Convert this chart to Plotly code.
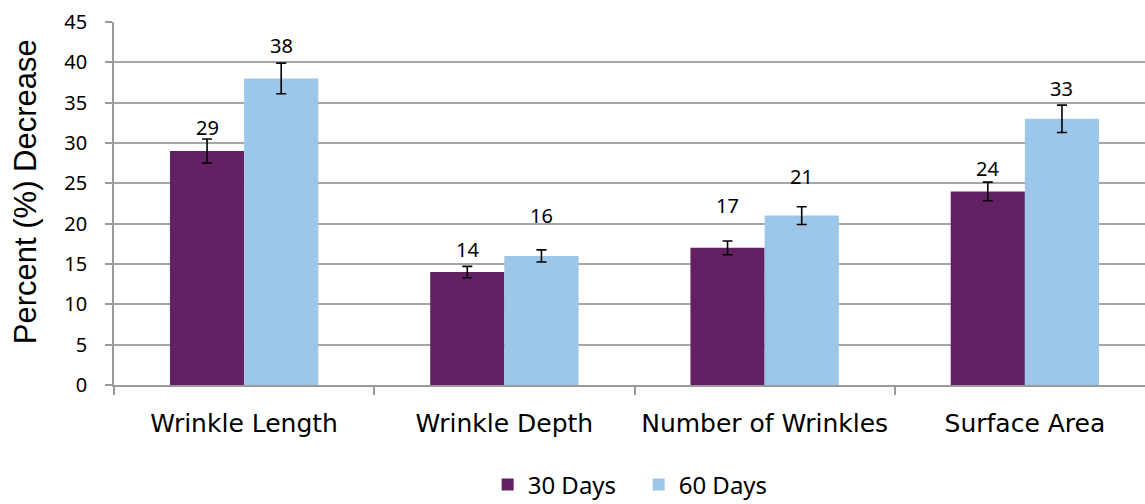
import plotly.graph_objects as go

categories = ["Wrinkle Length", "Wrinkle Depth", "Number of Wrinkles", "Surface Area"]
series_names = ["30 Days", "60 Days"]
values_30 = [29, 14, 17, 24]
values_60 = [38, 16, 21, 33]
err_30 = [1.5, 0.7, 0.85, 1.15]
err_60 = [1.9, 0.75, 1.1, 1.7]
y_ticks = [0, 5, 10, 15, 20, 25, 30, 35, 40, 45]

# styling: extra pixel lift of each value label above its error bar (as in reference)
label_lift_30 = [-4, 1, 20, -2]
label_lift_60 = [2, 19, 15, 1]

colors = ["#632063", "#9DC7E9"]
num_font = "Noto Sans"

fig = go.Figure()
for name, vals, errs, col in zip(series_names, [values_30, values_60], [err_30, err_60], colors):
    fig.add_trace(go.Bar(
        name=name, x=categories, y=vals,
        marker=dict(color=col, line=dict(width=0)),
        error_y=dict(type="data", array=errs, visible=True, color="black", thickness=1.6, width=5),
    ))

# value labels above error bars
for i, (vals, errs, lifts) in enumerate([(values_30, err_30, label_lift_30), (values_60, err_60, label_lift_60)]):
    for j, (v, e) in enumerate(zip(vals, errs)):
        fig.add_annotation(
            x=categories[j], y=v + e, text=str(v), showarrow=False,
            xref="x", yref="y", yanchor="bottom", yshift=lifts[j],
            xshift=(-37 if i == 0 else 37),
            font=dict(family=num_font, size=20, color="black"),
        )

fig.add_annotation(
    text="Percent (%) Decrease", textangle=-90, showarrow=False,
    xref="paper", yref="paper", x=-0.0855, y=0.534, xanchor="center", yanchor="middle",
    font=dict(family="Liberation Sans", size=31, color="black"),
)

fig.update_layout(
    width=1155, height=504,
    margin=dict(l=114, r=0, t=22, b=119, autoexpand=False),
    paper_bgcolor="white", plot_bgcolor="white",
    barmode="group", bargap=0.43, bargroupgap=0,
    showlegend=True,
    legend=dict(orientation="h", x=0.504, xanchor="center",
                yref="container", y=0.038, yanchor="middle",
                font=dict(family=num_font, size=24, color="black"),
                itemwidth=30, entrywidth=106, entrywidthmode="pixels",
                traceorder="normal"),
    xaxis=dict(
        showline=True, linecolor="#9a9a9a", linewidth=1.5,
        ticks="outside", ticklen=8, tickcolor="#9a9a9a", tickwidth=1.5,
        tickson="boundaries",
        tickfont=dict(family="DejaVu Sans", size=25, color="black"),
        ticklabelstandoff=15,
        showgrid=False, automargin=False,
    ),
    yaxis=dict(
        range=[0, 45], tickvals=y_ticks,
        showline=True, linecolor="#9a9a9a", linewidth=1.5,
        ticks="outside", ticklen=7, tickcolor="#9a9a9a", tickwidth=1.5,
        showgrid=True, gridcolor="#a6a6a6", gridwidth=1.5,
        zeroline=False, automargin=False,
        ticklabelstandoff=14,
        tickfont=dict(family=num_font, size=20, color="black"),
    ),
)

fig.write_html(
    "out.html",
    config={"displayModeBar": False},
    post_script=(
        "document.body.style.margin='0';"
        "document.body.style.overflow='hidden';"
        "document.documentElement.style.overflow='hidden';"
    ),
)
